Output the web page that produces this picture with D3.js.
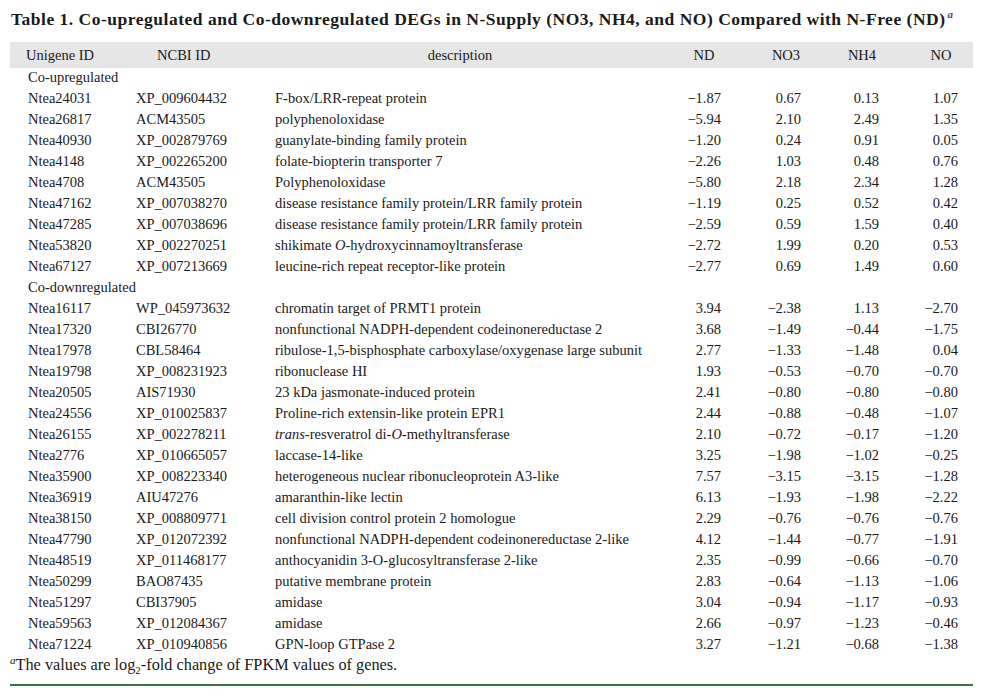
<!DOCTYPE html>
<html>
<head>
<meta charset="utf-8">
<script src="https://cdn.jsdelivr.net/npm/d3@7/dist/d3.min.js"></script>
<style>
  html, body { margin: 0; padding: 0; background: #fff; }
  svg { display: block; }
  text { font-family: "Liberation Serif", "DejaVu Serif", serif; fill: #1a1a1a; }
</style>
</head>
<body>
<svg id="chart" width="995" height="696"></svg>
<script>
// ---------------- data ----------------
const titleText = "Table 1. Co-upregulated and Co-downregulated DEGs in N-Supply (NO3, NH4, and NO) Compared with N-Free (ND)";
const headers = ["Unigene ID", "NCBI ID", "description", "ND", "NO3", "NH4", "NO"];
const groups = ["Co-upregulated", "Co-downregulated"];
const groupSizes = [9, 17];

const unigene = ["Ntea24031","Ntea26817","Ntea40930","Ntea4148","Ntea4708","Ntea47162","Ntea47285","Ntea53820","Ntea67127",
  "Ntea16117","Ntea17320","Ntea17978","Ntea19798","Ntea20505","Ntea24556","Ntea26155","Ntea2776","Ntea35900","Ntea36919",
  "Ntea38150","Ntea47790","Ntea48519","Ntea50299","Ntea51297","Ntea59563","Ntea71224"];
const ncbi = ["XP_009604432","ACM43505","XP_002879769","XP_002265200","ACM43505","XP_007038270","XP_007038696","XP_002270251","XP_007213669",
  "WP_045973632","CBI26770","CBL58464","XP_008231923","AIS71930","XP_010025837","XP_002278211","XP_010665057","XP_008223340","AIU47276",
  "XP_008809771","XP_012072392","XP_011468177","BAO87435","CBI37905","XP_012084367","XP_010940856"];
// segments marked with *...* are italic
const description = ["F-box/LRR-repeat protein","polyphenoloxidase","guanylate-binding family protein","folate-biopterin transporter 7",
  "Polyphenoloxidase","disease resistance family protein/LRR family protein","disease resistance family protein/LRR family protein",
  "shikimate *O*-hydroxycinnamoyltransferase","leucine-rich repeat receptor-like protein",
  "chromatin target of PRMT1 protein","nonfunctional NADPH-dependent codeinonereductase 2",
  "ribulose-1,5-bisphosphate carboxylase/oxygenase large subunit","ribonuclease HI","23 kDa jasmonate-induced protein",
  "Proline-rich extensin-like protein EPR1","*trans*-resveratrol di-*O*-methyltransferase","laccase-14-like",
  "heterogeneous nuclear ribonucleoprotein A3-like","amaranthin-like lectin","cell division control protein 2 homologue",
  "nonfunctional NADPH-dependent codeinonereductase 2-like","anthocyanidin 3-O-glucosyltransferase 2-like",
  "putative membrane protein","amidase","amidase","GPN-loop GTPase 2"];
const ND  = [-1.87,-5.94,-1.20,-2.26,-5.80,-1.19,-2.59,-2.72,-2.77, 3.94,3.68,2.77,1.93,2.41,2.44,2.10,3.25,7.57,6.13,2.29,4.12,2.35,2.83,3.04,2.66,3.27];
const NO3 = [0.67,2.10,0.24,1.03,2.18,0.25,0.59,1.99,0.69, -2.38,-1.49,-1.33,-0.53,-0.80,-0.88,-0.72,-1.98,-3.15,-1.93,-0.76,-1.44,-0.99,-0.64,-0.94,-0.97,-1.21];
const NH4 = [0.13,2.49,0.91,0.48,2.34,0.52,1.59,0.20,1.49, 1.13,-0.44,-1.48,-0.70,-0.80,-0.48,-0.17,-1.02,-3.15,-1.98,-0.76,-0.77,-0.66,-1.13,-1.17,-1.23,-0.68];
const NO  = [1.07,1.35,0.05,0.76,1.28,0.42,0.40,0.53,0.60, -2.70,-1.75,0.04,-0.70,-0.80,-1.07,-1.20,-0.25,-1.28,-2.22,-0.76,-1.91,-0.70,-1.06,-0.93,-0.46,-1.38];

// ---------------- layout ----------------
const svg = d3.select("#chart");
const fmt = d3.format(".2f");   // uses the U+2212 minus sign
const FS = 14.5;

// build row list: group label rows + data rows
const rows = [];
let k = 0;
groups.forEach((g, gi) => {
  rows.push({type: "group", label: g});
  for (let j = 0; j < groupSizes[gi]; j++, k++) rows.push({type: "data", i: k});
});
rows.push({type: "foot"});

const y = d3.scaleBand().domain(d3.range(rows.length)).range([66.5, 675.5]).paddingInner(0);
const yc = i => y(i) + y.bandwidth() / 2;

// column positions
const colX = {uni: 28, ncbi: 136, desc: 275};
const numCols = [
  {key: "ND",  vals: ND,  right: 721, head: 704},
  {key: "NO3", vals: NO3, right: 801, head: 786},
  {key: "NH4", vals: NH4, right: 879, head: 862},
  {key: "NO",  vals: NO,  right: 958, head: 941}
];

// title
const title = svg.append("text")
  .attr("x", 11).attr("y", 25)
  .attr("font-size", 17.5).attr("font-weight", "bold")
  .attr("fill", "#1a1a1a");
title.append("tspan").text(titleText)
  .attr("textLength", 934).attr("lengthAdjust", "spacing");
title.append("tspan").text("a")
  .attr("font-style", "italic").attr("font-size", 11)
  .attr("dx", 2).attr("dy", -7).attr("fill", "#2f4f8f");

// header band
svg.append("rect").attr("x", 10).attr("y", 42).attr("width", 963).attr("height", 26).attr("fill", "#e6e6e6");
const hy = 60;
const hdr = svg.append("g").attr("font-size", FS);
hdr.append("text").attr("x", 26).attr("y", hy).text(headers[0]);
hdr.append("text").attr("x", 157).attr("y", hy).text(headers[1]);
hdr.append("text").attr("x", 460).attr("y", hy).attr("text-anchor", "middle").text(headers[2]);
numCols.forEach((c, ci) => {
  hdr.append("text").attr("x", c.head).attr("y", hy).attr("text-anchor", "middle").text(headers[3 + ci]);
});

// body
const body = svg.append("g").attr("font-size", FS);
rows.forEach((r, ri) => {
  const by = yc(ri) + 5;
  if (r.type === "group") {
    body.append("text").attr("x", 28).attr("y", by).text(r.label);
  } else if (r.type === "data") {
    const i = r.i;
    body.append("text").attr("x", colX.uni).attr("y", by).text(unigene[i]);
    body.append("text").attr("x", colX.ncbi).attr("y", by).text(ncbi[i]);
    const dt = body.append("text").attr("x", colX.desc).attr("y", by);
    description[i].split("*").forEach((seg, si) => {
      if (seg === "") return;
      dt.append("tspan").text(seg).attr("font-style", si % 2 ? "italic" : "normal");
    });
    numCols.forEach(c => {
      body.append("text").attr("x", c.right).attr("y", by).attr("text-anchor", "end").text(fmt(c.vals[i]));
    });
  } else {
    const ft = body.append("text").attr("x", 10).attr("y", by).attr("font-size", 16.3);
    ft.append("tspan").text("a").attr("font-style", "italic").attr("font-size", 11).attr("dy", -6);
    ft.append("tspan").text("The values are log").attr("dy", 6);
    ft.append("tspan").text("2").attr("font-size", 11).attr("dy", 4);
    ft.append("tspan").text("-fold change of FPKM values of genes.").attr("dy", -4);
  }
});

// bottom green rule
svg.append("rect").attr("x", 10).attr("y", 684).attr("width", 963).attr("height", 2).attr("fill", "#3f7043");
</script>
</body>
</html>
